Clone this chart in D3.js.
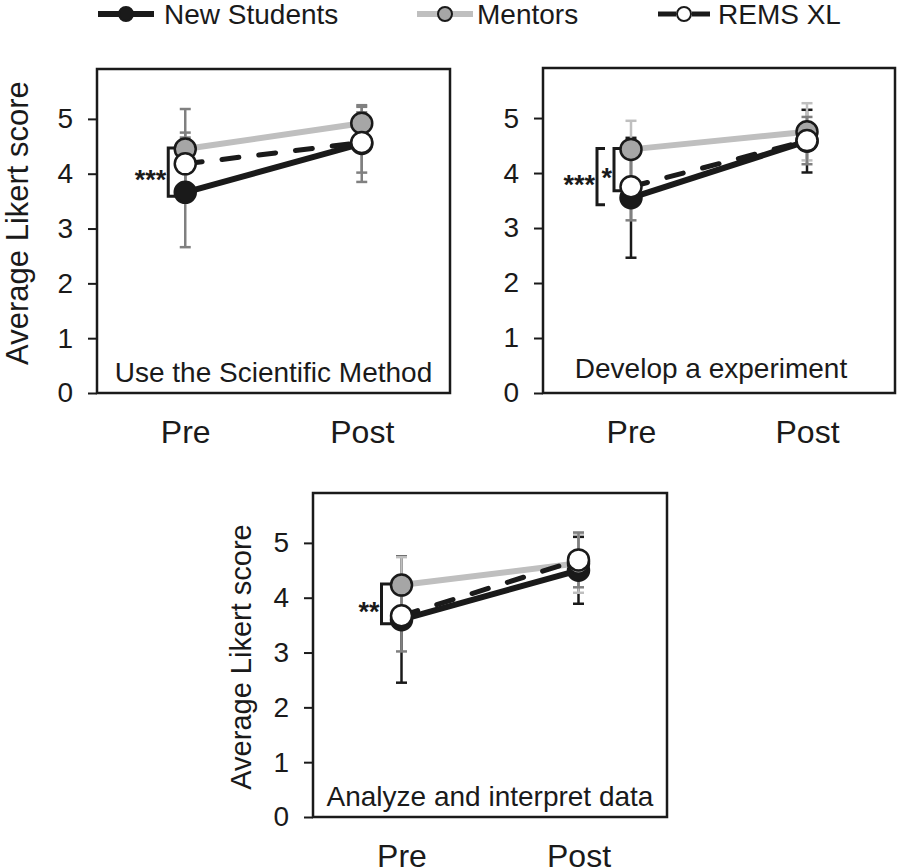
<!DOCTYPE html>
<html>
<head>
<meta charset="utf-8">
<script src="https://cdn.jsdelivr.net/npm/d3@7"></script>
<style>
  html, body { margin: 0; padding: 0; background: #ffffff; }
  svg { display: block; font-family: "Liberation Sans", Arial, Helvetica, sans-serif; }
</style>
</head>
<body>
<svg id="chart" width="898" height="868"></svg>
<script>
// ---------------- DATA ----------------
const categories = ["Pre", "Post"];
const seriesNames = ["New Students", "Mentors", "REMS XL"];
const panelTitles = ["Use the Scientific Method", "Develop a experiment", "Analyze and interpret data"];
const yTicks = [0, 1, 2, 3, 4, 5];
const yAxisTitle = "Average Likert score";

// per panel: [Pre, Post]
const newStudentsMean = [[3.66, 4.55], [3.55, 4.58], [3.60, 4.50]];
const newStudentsSD   = [[1.00, 0.70], [1.09, 0.57], [1.15, 0.61]];
const mentorsMean     = [[4.45, 4.92], [4.43, 4.75], [4.23, 4.63]];
const mentorsSD       = [[0.73, 0.30], [0.52, 0.52], [0.51, 0.54]];
const remsMean        = [[4.18, 4.57], [3.75, 4.59], [3.67, 4.69]];
const remsSD          = [[0.57, 0.55], [0.61, 0.43], [0.65, 0.50]];

// significance brackets at Pre: panel, upper series, lower series, label
const bracketPanel = [0, 1, 1, 2];
const bracketFrom  = [1, 1, 1, 1];
const bracketTo    = [0, 0, 2, 0];
const bracketLabel = ["***", "***", "*", "**"];
const bracketLevel = [0, 1, 0, 0];

// ---------------- LAYOUT / STYLE ----------------
const panels = [
  { left: 97,  right: 450, top: 69,  bottom: 393, title: true,  titleX: 28,  titleDy: -8, titleSize: 31, errColors: ["#808080", "#808080", "#808080"] },
  { left: 543, right: 895, top: 68,  bottom: 393, title: false, titleX: 0,   titleDy: 0,  titleSize: 31, errColors: ["#1a1a1a", "#bfbfbf", "#808080"] },
  { left: 313, right: 667, top: 493, bottom: 817, title: true,  titleX: 251, titleDy: 2,  titleSize: 29, errColors: ["#1a1a1a", "#bfbfbf", "#808080"] }
];
const seriesStyle = [
  { line: "#1a1a1a", width: 6, dash: null,    fill: "#1a1a1a" },
  { line: "#bfbfbf", width: 6, dash: null,    fill: "#a6a6a6" },
  { line: "#1a1a1a", width: 5, dash: "17,20", fill: "#ffffff" }
];
const yMax = 5.91;
const markerR = 10.5;

const means = [newStudentsMean, mentorsMean, remsMean];
const sds = [newStudentsSD, mentorsSD, remsSD];

const svg = d3.select("#chart");

panels.forEach((p, pi) => {
  const g = svg.append("g");
  const x = d3.scalePoint().domain(categories).range([p.left, p.right]).padding(0.5);
  const y = d3.scaleLinear().domain([0, yMax]).range([p.bottom, p.top]);

  // y axis
  const ya = g.append("g")
    .attr("transform", `translate(${p.left},0)`)
    .call(d3.axisLeft(y).tickValues(yTicks).tickSize(9).tickPadding(15).tickFormat(d3.format("d")));
  ya.select(".domain").remove();
  ya.selectAll(".tick line").attr("stroke", "#1a1a1a").attr("stroke-width", 2);
  ya.selectAll(".tick text").attr("fill", "#1a1a1a").style("font-size", "28px")
    .style("font-family", "'Liberation Sans', Arial, sans-serif");

  // x axis
  const xa = g.append("g")
    .attr("transform", `translate(0,${p.bottom})`)
    .call(d3.axisBottom(x).tickSize(0));
  xa.select(".domain").remove();
  xa.selectAll(".tick text").attr("fill", "#1a1a1a").attr("dy", null).attr("y", 50)
    .style("font-size", "32px").style("font-family", "'Liberation Sans', Arial, sans-serif");

  // frame
  g.append("rect")
    .attr("x", p.left).attr("y", p.top)
    .attr("width", p.right - p.left).attr("height", p.bottom - p.top)
    .attr("fill", "none").attr("stroke", "#1a1a1a").attr("stroke-width", 2.5);

  // axis title
  if (p.title) {
    g.append("text")
      .attr("transform", `translate(${p.titleX},${(p.top + p.bottom) / 2 + p.titleDy}) rotate(-90)`)
      .attr("text-anchor", "middle")
      .attr("fill", "#1a1a1a")
      .style("font-size", p.titleSize + "px")
      .text(yAxisTitle);
  }

  // panel label
  g.append("text")
    .attr("x", (p.left + p.right) / 2 - (pi === 1 ? 8 : 0))
    .attr("y", p.bottom - (pi === 1 ? 15 : 11))
    .attr("text-anchor", "middle")
    .attr("fill", "#1a1a1a")
    .style("font-size", "28px")
    .text(panelTitles[pi]);

  // error bars
  means.forEach((m, si) => {
    categories.forEach((c, ci) => {
      const cx = x(c);
      const v = m[pi][ci], s = sds[si][pi][ci];
      const col = p.errColors[si];
      g.append("line").attr("x1", cx).attr("x2", cx)
        .attr("y1", y(v - s)).attr("y2", y(v + s))
        .attr("stroke", col).attr("stroke-width", 2.5);
      [v - s, v + s].forEach(e => {
        g.append("line").attr("x1", cx - 5.5).attr("x2", cx + 5.5)
          .attr("y1", y(e)).attr("y2", y(e))
          .attr("stroke", col).attr("stroke-width", 2.5);
      });
    });
  });

  // brackets
  bracketPanel.forEach((bp, bi) => {
    if (bp !== pi) return;
    const cx = x(categories[0]);
    const off = bracketLevel[bi] === 0 ? (pi === 2 ? 20 : 17) : 34;
    const bx = cx - off;
    const yTop = y(means[bracketFrom[bi]][pi][0]) - 1;
    const yBot = y(means[bracketTo[bi]][pi][0]) + (bracketLevel[bi] === 1 ? 7 : 4);
    const tx = bracketLevel[bi] === 1 ? bx + 8 : cx - 9;
    g.append("path")
      .attr("d", `M${tx},${yTop} H${bx} V${yBot} H${tx}`)
      .attr("fill", "none").attr("stroke", "#1a1a1a").attr("stroke-width", 3);
    g.append("text")
      .attr("x", bx - 2).attr("y", (yTop + yBot) / 2 + 17)
      .attr("text-anchor", "end")
      .attr("fill", "#1a1a1a")
      .style("font-size", "27px").style("font-weight", "bold")
      .text(bracketLabel[bi]);
  });

  // lines and markers
  const line = d3.line().x(d => x(d.c)).y(d => y(d.v));
  means.forEach((m, si) => {
    const pts = categories.map((c, ci) => ({ c, v: m[pi][ci] }));
    const st = seriesStyle[si];
    const path = g.append("path").datum(pts)
      .attr("d", line)
      .attr("fill", "none").attr("stroke", st.line).attr("stroke-width", st.width);
    if (st.dash) path.attr("stroke-dasharray", st.dash).attr("stroke-linecap", "round");
    g.selectAll(null).data(pts).enter().append("circle")
      .attr("cx", d => x(d.c)).attr("cy", d => y(d.v)).attr("r", markerR)
      .attr("fill", st.fill).attr("stroke", "#1a1a1a").attr("stroke-width", 2.5);
  });
});

// ---------------- LEGEND ----------------
const legendX = [98, 417, 658];
const lg = svg.append("g");
seriesNames.forEach((name, si) => {
  const st = seriesStyle[si];
  const x0 = legendX[si], ly = 14;
  if (si === 2) {
    lg.append("line").attr("x1", x0).attr("x2", x0 + 18).attr("y1", ly).attr("y2", ly)
      .attr("stroke", st.line).attr("stroke-width", 5);
    lg.append("line").attr("x1", x0 + 34).attr("x2", x0 + 52).attr("y1", ly).attr("y2", ly)
      .attr("stroke", st.line).attr("stroke-width", 5);
  } else {
    lg.append("line").attr("x1", x0).attr("x2", x0 + 56).attr("y1", ly).attr("y2", ly)
      .attr("stroke", st.line).attr("stroke-width", st.width);
  }
  lg.append("circle").attr("cx", x0 + (si === 2 ? 26 : 28)).attr("cy", ly).attr("r", 7)
    .attr("fill", st.fill).attr("stroke", "#1a1a1a").attr("stroke-width", 2);
  lg.append("text").attr("x", x0 + (si === 2 ? 60 : 66) - (si === 1 ? 6 : 0)).attr("y", 24)
    .attr("fill", "#1a1a1a").style("font-size", "28px").text(name);
});
</script>
</body>
</html>
